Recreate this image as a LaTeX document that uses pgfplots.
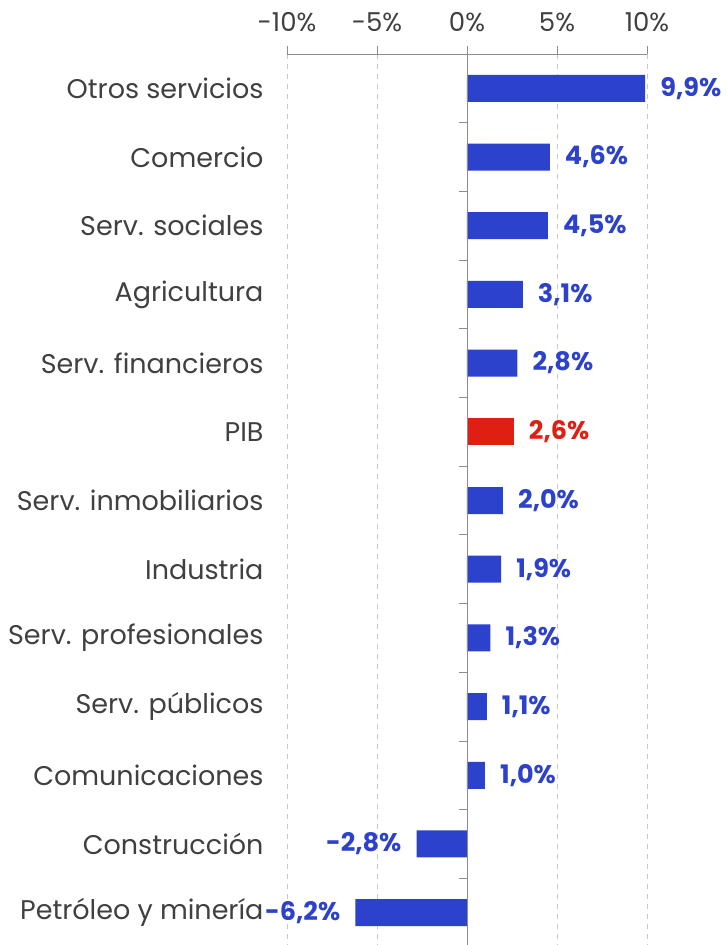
\documentclass[border=0pt]{standalone}
\usepackage{fontspec}
\setmainfont{Poppins}
\usepackage{pgfplots}
\pgfplotsset{compat=1.18}
\definecolor{barblue}{HTML}{2C41CC}
\definecolor{barred}{HTML}{DF1F12}
\definecolor{txt}{HTML}{404040}
\definecolor{gridc}{HTML}{C8C8C8}
\definecolor{axc}{HTML}{8C8C8C}
\begin{document}
\begin{tikzpicture}
\begin{axis}[
  name=ax,
  scale only axis, width=360pt, height=893pt,
  xmin=-10, xmax=10, ymin=-0.5, ymax=12.5, y dir=reverse,
  axis x line*=top, axis y line*=left,
  x axis line style={axc, line width=0.8pt, -},
  y axis line style={draw=none},
  xtick={-10,-5,0,5,10}, xticklabels={-10\%,-5\%,0\%,5\%,10\%},
  xtick style={axc, line width=0.8pt}, tick align=outside, major tick length=8pt,
  xticklabel style={font=\fontsize{26}{30}\selectfont, text=txt, yshift=11pt},
  ytick={0,...,12}, ytick style={draw=none},
  yticklabels={Otros servicios,Comercio,Serv. sociales,Agricultura,Serv. financieros,PIB,Serv. inmobiliarios,Industria,Serv. profesionales,Serv. públicos,Comunicaciones,Construcción,Petróleo y minería},
  yticklabel style={font=\fontsize{27}{31}\selectfont, text=txt, xshift=-12pt},
  xmajorgrids, grid style={gridc, dashed, line width=0.8pt, dash pattern=on 5pt off 5pt},
  clip=false,
  point meta=x,
  nodes near coords={\pgfmathprintnumber[fixed,fixed zerofill,precision=1,use comma,assume math mode=true]{\pgfplotspointmeta}\%},
  nodes near coords align={horizontal},
]
\addplot[xbar, bar width=27pt, bar shift=0pt, fill=barblue, draw=none,
  nodes near coords style={text=barblue, font=\bfseries\fontsize{25.5}{30}\selectfont, inner xsep=15pt, inner ysep=0pt}]
  coordinates {(9.9,0) (4.6,1) (4.5,2) (3.1,3) (2.8,4) (2.0,6) (1.9,7) (1.3,8) (1.1,9) (1.0,10) (-2.8,11) (-6.2,12)};
\addplot[xbar, bar width=27pt, bar shift=0pt, fill=barred, draw=none,
  nodes near coords style={text=barred, font=\bfseries\fontsize{25.5}{30}\selectfont, inner xsep=15pt, inner ysep=0pt}]
  coordinates {(2.6,5)};
\draw[axc, line width=0.8pt] (axis cs:0,-0.5) -- (axis cs:0,12.5);
\pgfplotsinvokeforeach{0.5,1.5,2.5,3.5,4.5,5.5,6.5,7.5,8.5,9.5,10.5,11.5}{
  \draw[axc, line width=0.8pt] (axis cs:0,#1) -- ([xshift=-8pt]axis cs:0,#1);
}
\end{axis}
\pgfresetboundingbox
\path ([xshift=-287pt,yshift=54pt]ax.north west) rectangle ([xshift=440pt,yshift=-891pt]ax.north west);
\end{tikzpicture}
\end{document}
